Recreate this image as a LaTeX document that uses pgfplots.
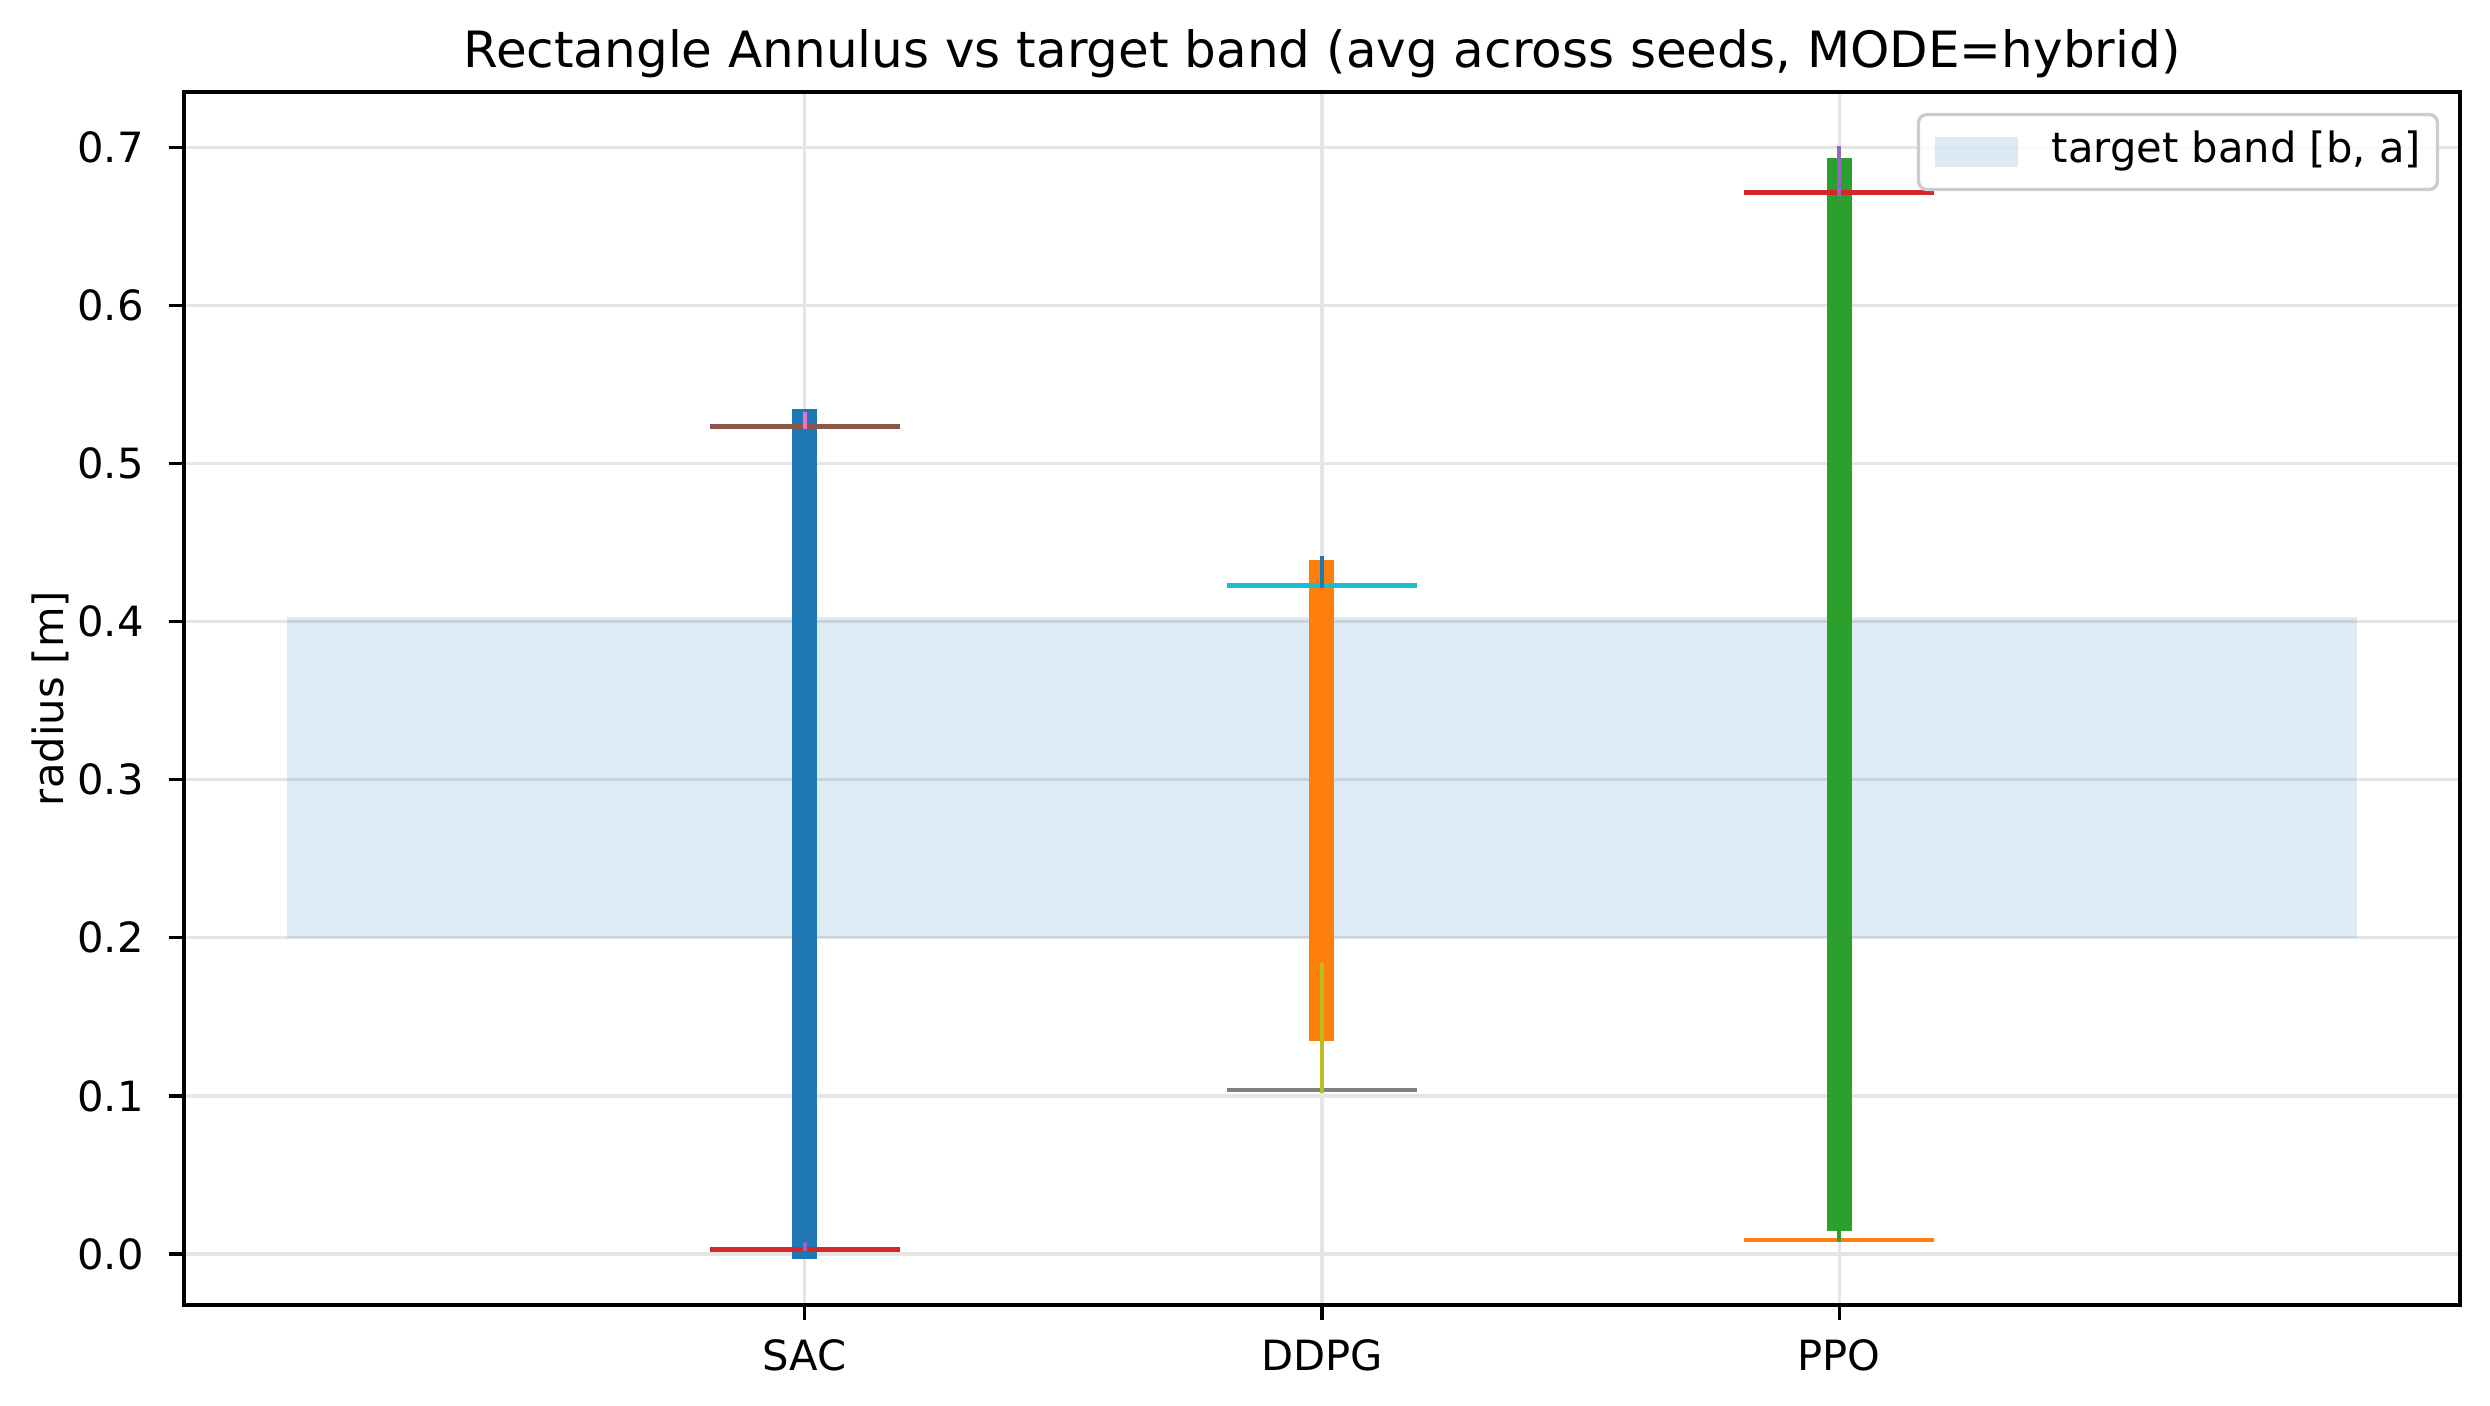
\documentclass[border=0pt]{standalone}
\usepackage{fontspec}
\setmainfont{DejaVu Sans}
\usepackage{pgfplots}
\pgfplotsset{compat=1.18}
% matplotlib tab10
\definecolor{tabblue}{HTML}{1F77B4}
\definecolor{taborange}{HTML}{FF7F0E}
\definecolor{tabgreen}{HTML}{2CA02C}
\definecolor{tabred}{HTML}{D62728}
\definecolor{tabpurple}{HTML}{9467BD}
\definecolor{tabbrown}{HTML}{8C564B}
\definecolor{tabpink}{HTML}{E377C2}
\definecolor{tabgray}{HTML}{7F7F7F}
\definecolor{tabolive}{HTML}{BCBD22}
\definecolor{tabcyan}{HTML}{17BECF}

\pgfplotsset{
    bandlegend/.style={legend image code/.code={
        \fill[##1, sharp corners] (0pt,-3.5pt) rectangle (20pt,3.5pt);}},
}

\begin{document}
\begin{tikzpicture}
\begin{axis}[
    scale only axis,
    width=546.24pt, height=291.12pt,
    xmin=-1.2, xmax=3.2,
    ymin=-0.0323, ymax=0.735,
    xtick={0,1,2},
    xticklabels={SAC,DDPG,PPO},
    ytick={0,0.1,0.2,0.3,0.4,0.5,0.6,0.7},
    /pgf/number format/assume math mode=true,
    yticklabel style={/pgf/number format/fixed, /pgf/number format/fixed zerofill,
        /pgf/number format/precision=1},
    tick label style={font=\fontsize{10}{12}\selectfont, inner sep=0pt},
    xticklabel style={anchor=base, yshift=-12.2pt},
    yticklabel style={anchor=east, xshift=-6pt},
    tick align=outside,
    xtick pos=bottom, ytick pos=left,
    major tick length=3.5pt,
    every tick/.style={black, line width=0.8pt},
    axis line style={black, line width=0.8pt},
    grid=major,
    grid style={black!10, line width=0.8pt},
    every axis title shift=0pt,
    title={Rectangle Annulus vs target band (avg across seeds, MODE=hybrid)},
    title style={at={(0.5,1)}, anchor=base, yshift=5.8pt, inner sep=0pt,
        font=\fontsize{12}{14.4}\selectfont},
    ylabel={radius [m]},
    ylabel style={at={(axis description cs:-0.053,0.5)}, anchor=base,
        inner sep=0pt, font=\fontsize{10}{12}\selectfont},
    legend style={at={(1,1)}, anchor=north east, xshift=-5pt, yshift=-5pt,
        draw=black!20, line width=0.8pt, rounded corners=2pt,
        fill=white, fill opacity=0.8, text opacity=1,
        inner xsep=4pt, inner ysep=4pt, column sep=8pt,
        nodes={inner sep=0pt, text height=7.6pt, text depth=2.4pt},
        font=\fontsize{10}{12}\selectfont},
]

% target band [b, a]
\addplot[fill=tabblue, fill opacity=0.15, draw=none, bandlegend]
    coordinates {(-1,0.2) (-1,0.403) (3,0.403) (3,0.2)} -- cycle;
\addlegendentry{target band [b, a]}

% SAC
\addplot[forget plot, tabblue, line width=6pt] coordinates {(0,-0.0034) (0,0.5343)};
\addplot[forget plot, tabbrown, line width=1pt, line cap=rect] coordinates {(-0.18,0.5234) (0.18,0.5234)};
\addplot[forget plot, tabred, line width=1pt, line cap=rect] coordinates {(-0.18,0.0028) (0.18,0.0028)};
\addplot[forget plot, tabpink, line width=1pt] coordinates {(0,0.5220) (0,0.5325)};
\addplot[forget plot, tabpurple, line width=1pt] coordinates {(0,0.0017) (0,0.0075)};

% DDPG
\addplot[forget plot, taborange, line width=6pt] coordinates {(1,0.1345) (1,0.4390)};
\addplot[forget plot, tabcyan, line width=1pt, line cap=rect] coordinates {(0.82,0.4228) (1.18,0.4228)};
\addplot[forget plot, tabgray, line width=1pt, line cap=rect] coordinates {(0.82,0.1035) (1.18,0.1035)};
\addplot[forget plot, tabblue, line width=1pt] coordinates {(1,0.4213) (1,0.4415)};
\addplot[forget plot, tabolive, line width=1pt] coordinates {(1,0.1021) (1,0.1838)};

% PPO
\addplot[forget plot, tabgreen, line width=6pt] coordinates {(2,0.0145) (2,0.6932)};
\addplot[forget plot, tabred, line width=1pt, line cap=rect] coordinates {(1.82,0.6714) (2.18,0.6714)};
\addplot[forget plot, taborange, line width=1pt, line cap=rect] coordinates {(1.82,0.0087) (2.18,0.0087)};
\addplot[forget plot, tabpurple, line width=1pt] coordinates {(2,0.6695) (2,0.7010)};
\addplot[forget plot, tabgreen, line width=1pt] coordinates {(2,0.0073) (2,0.0250)};

\end{axis}
\path (-44.16pt,-24.24pt) rectangle (553.44pt,313.2pt);
\end{tikzpicture}
\end{document}
